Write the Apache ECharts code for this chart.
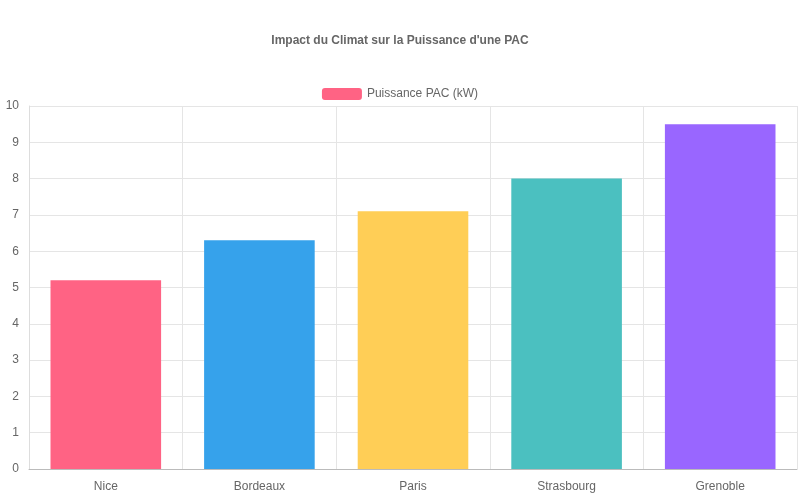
<!DOCTYPE html>
<html>
<head>
<meta charset="utf-8">
<script src="https://cdn.jsdelivr.net/npm/echarts@6/dist/echarts.min.js"></script>
</head>
<body style="margin:0">
<div id="main" style="width:800px;height:500px;"></div>
<script type="text/javascript">
var villes = ['Nice', 'Bordeaux', 'Paris', 'Strasbourg', 'Grenoble'];
var puissance = [5.2, 6.3, 7.1, 8.0, 9.5];
var couleurs = ['#ff6384', '#36a2eb', '#ffce56', '#4bc0c0', '#9966ff'];

var chart = echarts.init(document.getElementById('main'));
chart.setOption({
    animation: false,
    textStyle: { fontFamily: 'Liberation Sans' },
    title: {
        text: "Impact du Climat sur la Puissance d'une PAC",
        left: 'center', top: 30,
        textStyle: { fontSize: 12, fontWeight: 'bold', color: '#666' }
    },
    legend: {
        top: 83, left: 'center',
        itemWidth: 40, itemHeight: 12,
        textStyle: { color: '#666', fontSize: 12 },
        data: ['Puissance PAC (kW)']
    },
    grid: { left: 29, right: 3, top: 106, bottom: 31 },
    xAxis: {
        type: 'category',
        data: villes,
        axisLine: { lineStyle: { color: '#bbb' } },
        axisTick: { length: 9, lineStyle: { color: '#ddd' } },
        axisLabel: { color: '#666', fontSize: 12, margin: 12 },
        splitLine: { show: true, lineStyle: { color: '#e5e5e5' } }
    },
    yAxis: {
        type: 'value', min: 0, max: 10, interval: 1,
        axisLine: { show: true, lineStyle: { color: '#ddd' } },
        axisTick: { show: false },
        axisLabel: { color: '#666', fontSize: 12, margin: 10 },
        splitLine: { lineStyle: { color: '#e5e5e5' } }
    },
    series: [{
        name: 'Puissance PAC (kW)',
        type: 'bar',
        barWidth: '72%',
        itemStyle: { color: couleurs[0] },
        data: puissance.map(function (v, i) {
            return { value: v, itemStyle: { color: couleurs[i] } };
        })
    }]
});
</script>
</body>
</html>
